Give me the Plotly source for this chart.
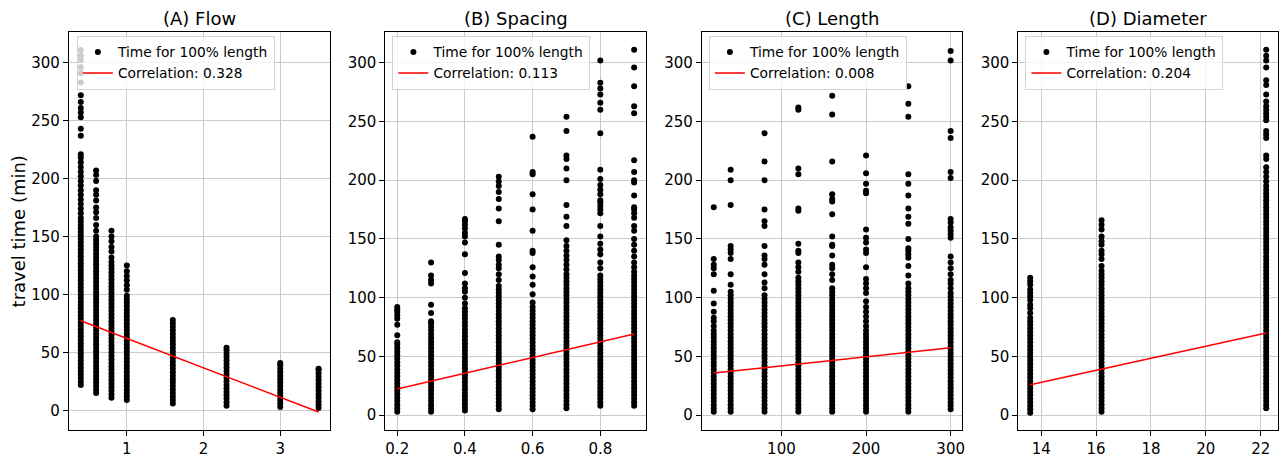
import plotly.graph_objects as go

# ---------------- data ----------------
titles = ["(A) Flow", "(B) Spacing", "(C) Length", "(D) Diameter"]
corr_labels = ["Correlation: 0.328", "Correlation: 0.113", "Correlation: 0.008", "Correlation: 0.204"]
scatter_label = "Time for 100% length"
y_label = "travel time (min)"

# Panel A: flow
flow_x = [0.4, 0.6, 0.8, 1.0, 1.6, 2.3, 3.0, 3.5]
flow_y = [
    [22,25,28,31,34,37,40,43,46,49,52,55,58,61,64,67,70,73,76,79,82,85,88,91,94,97,100,103,106,109,112,115,118,121,124,127,130,133,136,139,142,145,148,151,154,157,160,163,166,170,174,178,182,186,190,194,198,202,206,210,214,218,221,237,243,253,257,261,266,272,283,291,296,302,306,311],
    [15,18,21,24,27,30,33,36,39,42,45,48,51,54,57,60,63,66,69,72,75,78,81,84,87,90,93,96,99,102,105,108,111,114,117,120,123,126,129,132,135,138,141,144,147,150,155,160,166,171,175,181,186,190,198,203,207],
    [11,14,17,20,23,26,29,32,35,38,41,44,47,50,53,56,59,62,65,68,71,74,77,80,83,86,89,92,95,98,101,104,107,110,113,116,119,122,125,128,132,137,141,146,150,155],
    [9,12,15,18,21,24,27,30,33,36,39,42,45,48,51,54,57,60,63,66,69,72,75,78,81,84,87,90,93,96,99,104,108,112,116,120,125],
    [6,9,12,15,18,21,24,27,30,33,36,39,42,45,48,51,54,57,60,63,66,69,72,75,78],
    [4,7,10,13,16,19,22,25,28,31,34,37,40,43,46,49,52,54],
    [3,6,9,12,15,18,21,24,27,30,33,36,39,41],
    [2,5,8,11,14,17,20,23,26,29,32,35,36],
]
flow_fit_x = [0.4, 3.5]
flow_fit_y = [77.3, -1.4]

# Panel B: spacing
spacing_x = [0.2, 0.3, 0.4, 0.5, 0.6, 0.7, 0.8, 0.9]
spacing_y = [
    [3,6,9,12,15,18,21,24,27,30,33,36,39,42,45,48,51,54,57,60,62,68,77,82,85,88,90,92],
    [3,6,9,12,15,18,21,24,27,30,33,36,39,42,45,48,51,54,57,60,63,66,69,72,75,78,80,87,94,112,115,119,130],
    [4,7,10,13,16,19,22,25,28,31,34,37,40,43,46,49,52,55,58,61,64,67,70,73,76,79,82,85,88,91,95,100,105,108,112,121,137,147,152,155,159,162,165,167],
    [5,8,11,14,17,20,23,26,29,32,35,38,41,44,47,50,53,56,59,62,65,68,71,74,77,80,83,86,89,92,95,98,101,104,107,110,115,120,125,128,132,135,145,165,176,184,190,195,199,203],
    [5,8,11,14,17,20,23,26,29,32,35,38,41,44,47,50,53,56,59,62,65,68,71,74,77,80,83,86,89,92,96,103,111,118,126,138,140,157,175,188,205,207,237],
    [6,9,12,15,18,21,24,27,30,33,36,39,42,45,48,51,54,57,60,63,66,69,72,75,78,81,84,87,90,93,96,99,102,105,108,111,114,117,120,124,128,132,136,140,144,149,161,169,179,200,210,218,221,242,254],
    [8,11,14,17,20,23,26,29,32,35,38,41,44,47,50,53,56,59,62,65,68,71,74,77,80,83,86,89,92,95,98,101,104,107,110,113,116,119,125,130,137,141,146,152,161,172,175,178,181,183,188,192,196,201,209,240,260,266,273,278,283,302],
    [8,11,14,17,20,23,26,29,32,35,38,41,44,47,50,53,56,59,62,65,68,71,74,77,80,83,86,89,92,95,98,101,104,107,110,113,116,119,122,126,130,135,140,145,150,157,161,168,172,175,177,187,198,200,207,217,257,263,280,296,311],
]
spacing_fit_x = [0.2, 0.9]
spacing_fit_y = [22.4, 69.2]

# Panel C: length
length_x = [20, 40, 80, 120, 160, 200, 250, 300]
length_y = [
    [3,6,9,12,15,18,21,24,27,30,33,36,39,42,45,48,51,54,57,60,63,66,69,72,76,80,83,88,95,106,120,125,128,133,177],
    [3,6,9,12,15,18,21,24,27,30,33,36,39,42,45,48,51,54,57,60,63,66,69,72,75,78,81,84,87,90,93,96,99,102,105,111,120,133,138,141,144,179,200,209],
    [3,6,9,12,15,18,21,24,27,30,33,36,39,42,45,48,51,54,57,60,63,66,69,72,75,78,81,84,87,90,93,96,99,102,108,113,120,128,133,136,144,161,165,175,200,216,240],
    [3,6,9,12,15,18,21,24,27,30,33,36,39,42,45,48,51,54,57,60,63,66,69,72,75,78,81,84,87,90,93,96,99,102,105,108,111,114,117,122,126,130,138,140,146,174,176,205,210,260,262],
    [3,6,9,12,15,18,21,24,27,30,33,36,39,42,45,48,51,54,57,60,63,66,69,72,75,78,81,84,87,90,93,96,99,102,105,108,115,120,125,128,136,144,145,152,171,182,184,188,216,256,272],
    [3,6,9,12,15,18,21,24,27,30,33,36,39,42,45,48,51,54,57,60,63,66,69,72,76,80,84,88,92,97,104,108,112,116,126,138,141,147,151,158,189,191,197,206,221],
    [3,6,9,12,15,18,21,24,27,30,33,36,39,42,45,48,51,54,57,60,63,66,69,72,75,78,81,84,87,90,93,96,99,102,105,108,112,119,127,134,137,140,142,150,163,169,176,187,197,205,254,265,280],
    [5,8,11,14,17,20,23,26,29,32,35,38,41,44,47,50,53,56,59,62,65,68,71,74,77,80,83,86,89,92,95,98,101,104,108,112,115,120,125,130,135,151,154,157,160,164,167,202,207,236,242,302,310],
]
length_fit_x = [20, 300]
length_fit_y = [35.9, 57.4]

# Panel D: diameter
diameter_x = [13.6, 16.2, 22.2]
diameter_y = [
    [2,5,8,11,14,17,20,23,26,29,32,35,38,41,44,47,50,53,56,59,62,65,68,71,74,77,80,83,87,91,94,98,101,104,107,111,114,117],
    [3,6,9,12,15,18,21,24,27,30,33,36,39,42,45,48,51,54,57,60,63,66,69,72,75,78,81,84,87,90,93,96,99,102,105,108,111,114,117,120,123,127,133,137,140,145,148,152,158,162,166],
    [6,9,12,15,18,21,24,27,30,33,36,39,42,45,48,51,54,57,60,63,66,69,72,75,78,81,84,87,90,93,96,99,102,105,108,111,114,117,120,123,126,129,132,135,138,141,144,147,150,153,156,159,162,165,168,171,174,177,180,183,186,189,192,195,199,203,207,211,218,221,236,239,242,251,254,257,260,263,267,273,281,285,296,302,306,311],
]
diameter_fit_x = [13.6, 22.2]
diameter_fit_y = [26.0, 70.0]

panels = [
    (flow_x, flow_y, flow_fit_x, flow_fit_y),
    (spacing_x, spacing_y, spacing_fit_x, spacing_fit_y),
    (length_x, length_y, length_fit_x, length_fit_y),
    (diameter_x, diameter_y, diameter_fit_x, diameter_fit_y),
]

# ---------------- layout ----------------
W, H = 1280, 458
FONT = "DejaVu Sans"
x_domains_px = [(69, 331), (386, 647), (703, 964), (1020, 1280)]
y_top_px, y_bot_px = 32.3, 435
x_ranges = [[0.245, 3.655], [0.165, 0.935], [6, 314], [13.17, 22.63]]
y_ranges = [[-17.1, 326.5], [-12.8, 326.2], [-12.8, 326.2], [-12.8, 326.2]]
x_ticks = [[1, 2, 3], [0.2, 0.4, 0.6, 0.8], [100, 200, 300], [14, 16, 18, 20, 22]]
legend_left_px = [77, 393, 710, 1027]

fig = go.Figure()
layout = dict(
    width=W, height=H,
    margin=dict(l=0, r=0, t=0, b=0),
    paper_bgcolor="white", plot_bgcolor="white",
    font=dict(family=FONT, color="black"),
    showlegend=True,
    annotations=[],
)

for i, (xs, ys, fx, fy) in enumerate(panels):
    n = "" if i == 0 else str(i + 1)
    xa, ya = "x" + n, "y" + n
    leg = "legend" + n
    px_all, py_all = [], []
    for xv, col in zip(xs, ys):
        px_all.extend([xv] * len(col))
        py_all.extend(col)
    fig.add_trace(go.Scatter(
        x=px_all, y=py_all, mode="markers", xaxis=xa, yaxis=ya,
        marker=dict(color="black", size=6, line=dict(width=0)),
        name=scatter_label, legend=leg,
    ))
    fig.add_trace(go.Scatter(
        x=fx, y=fy, mode="lines", xaxis=xa, yaxis=ya,
        line=dict(color="red", width=1.5),
        name=corr_labels[i], legend=leg,
    ))
    d0, d1 = x_domains_px[i]
    common = dict(
        showline=True, mirror=True, linecolor="black", linewidth=1,
        ticks="outside", ticklen=5, tickcolor="black", tickwidth=1,
        showgrid=True, gridcolor="#cbcbcb", gridwidth=1, zeroline=False,
        tickfont=dict(family=FONT, size=15, color="black"),
    )
    layout["xaxis" + n] = dict(
        domain=[d0 / W, d1 / W], range=x_ranges[i], anchor=ya,
        tickvals=x_ticks[i], **common,
    )
    layout["yaxis" + n] = dict(
        domain=[1 - y_bot_px / H, 1 - y_top_px / H], range=y_ranges[i], anchor=xa,
        tickvals=[0, 50, 100, 150, 200, 250, 300], **common,
    )
    layout[leg] = dict(
        x=legend_left_px[i] / W, y=1 - 36 / H, xref="paper", yref="paper",
        xanchor="left", yanchor="top",
        bgcolor="rgba(255,255,255,0.8)", bordercolor="#d4d4d4", borderwidth=1,
        font=dict(family=FONT, size=13.8, color="black"),
        tracegroupgap=0,
    )
    layout["annotations"].append(dict(
        text=titles[i], x=(d0 + d1) / 2 / W, y=1 - 19 / H, xref="paper", yref="paper",
        xanchor="center", yanchor="middle", showarrow=False,
        font=dict(family=FONT, size=18, color="black"),
    ))

layout["annotations"].append(dict(
    text=y_label, x=18 / W, y=1 - 234 / H, xref="paper", yref="paper",
    xanchor="center", yanchor="middle", showarrow=False, textangle=-90,
    font=dict(family=FONT, size=18, color="black"),
))

fig.update_layout(**layout)
fig.write_html("out.html")
